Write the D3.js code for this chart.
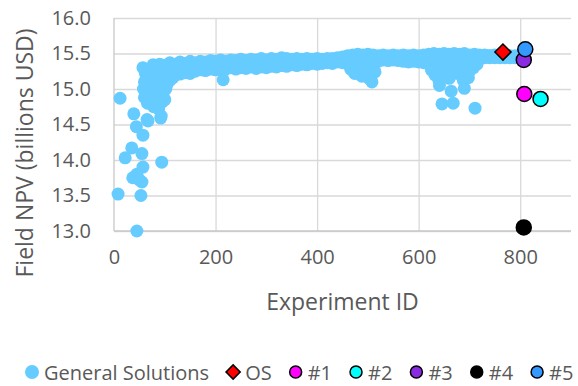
<!DOCTYPE html>
<html>
<head>
<meta charset="utf-8">
<script src="https://cdn.jsdelivr.net/npm/d3@7"></script>
<style>
  body { margin: 0; background: #fff; }
  svg { display: block; font-family: "Open Sans", sans-serif; }
  .grid line { stroke: #d9d9d9; stroke-width: 1.3; }
  .grid path { display: none; }
  .tick-label text { fill: #595959; font-size: 20px; }
  .axis-title { fill: #595959; font-size: 23px; }
  .legend text { fill: #595959; font-size: 20px; }
</style>
</head>
<body>
<svg id="chart" width="578" height="386"></svg>
<script>
// General solutions as [experiment id, field NPV]
var earlyRuns = [
  [8, 13.52], [12, 14.87], [22, 14.03], [35, 14.17], [37, 13.75], [39, 14.65],
  [44, 14.47], [45, 13.80], [45, 13.00], [50, 13.72], [53, 13.50], [55, 14.09],
  [57, 14.35], [57, 13.90], [55, 13.69], [65, 14.57], [67, 14.55], [94, 13.97], [92, 14.59]
];

var rampRuns = [
  [57, 15.30], [62, 15.22], [60, 15.10], [58, 15.00], [60, 14.88], [66, 14.80],
  [70, 14.92], [72, 15.05], [75, 15.18], [77, 15.34], [85, 15.25], [82, 15.12],
  [85, 14.98], [83, 14.85], [88, 14.72], [78, 14.75], [93, 14.62], [95, 14.82],
  [97, 14.95], [95, 15.10], [92, 15.28], [70, 15.25], [66, 14.98], [90, 15.35],
  [100, 14.85], [102, 15.00], [104, 15.06], [110, 15.12], [116, 15.16], [215, 15.13]
];

// main plateau band: ids with the top, middle and lower edge of the cloud
var bandIds = [100, 110, 120, 130, 140, 150, 160, 170, 180, 190, 200, 210, 220, 230, 240,
  250, 260, 270, 280, 290, 300, 310, 320, 330, 340, 350, 360, 370, 380, 390, 400, 410,
  420, 430, 440, 450, 460, 470, 480, 490, 500, 510, 520, 530, 540, 550, 560, 570, 580,
  590, 600, 610, 620, 630, 640, 650, 660, 670, 680, 690, 700, 710, 720, 730, 740, 750,
  760, 770, 780, 790];
var bandTop = [15.33, 15.37, 15.35, 15.38, 15.36, 15.39, 15.37, 15.39, 15.38, 15.40, 15.39,
  15.41, 15.39, 15.41, 15.40, 15.42, 15.40, 15.42, 15.41, 15.43, 15.41, 15.43, 15.42, 15.44,
  15.43, 15.42, 15.43, 15.42, 15.43, 15.42, 15.43, 15.42, 15.43, 15.43, 15.44, 15.45, 15.47,
  15.48, 15.49, 15.48, 15.49, 15.48, 15.47, 15.48, 15.47, 15.48, 15.47, 15.48, 15.47, 15.48,
  15.47, 15.48, 15.49, 15.50, 15.49, 15.50, 15.49, 15.50, 15.49, 15.50, 15.48, 15.49, 15.48,
  15.48, 15.47, 15.48, 15.47, 15.47, 15.46, 15.45];
var bandMid = [15.26, 15.29, 15.27, 15.30, 15.30, 15.31, 15.31, 15.33, 15.32, 15.34, 15.33,
  15.35, 15.34, 15.36, 15.34, 15.36, 15.35, 15.37, 15.35, 15.37, 15.36, 15.38, 15.37, 15.39,
  15.38, 15.38, 15.38, 15.39, 15.39, 15.39, 15.39, 15.39, 15.40, 15.40, 15.41, 15.41, 15.42,
  15.42, 15.41, 15.41, 15.41, 15.42, 15.43, 15.45, 15.44, 15.45, 15.44, 15.44, 15.43, 15.44,
  15.43, 15.43, 15.42, 15.42, 15.40, 15.42, 15.40, 15.42, 15.41, 15.42, 15.42, 15.44, 15.46,
  15.47, 15.47, 15.47, 15.47, 15.47, 15.47, 15.47];
var bandLow = [15.18, 15.20, 15.19, 15.21, 15.23, 15.22, 15.25, 15.27, 15.26, 15.28, 15.27,
  15.29, 15.28, 15.30, 15.28, 15.30, 15.29, 15.31, 15.29, 15.31, 15.30, 15.32, 15.31, 15.33,
  15.32, 15.34, 15.33, 15.35, 15.34, 15.36, 15.35, 15.36, 15.37, 15.36, 15.38, 15.37, 15.36,
  15.35, 15.34, 15.35, 15.34, 15.35, 15.39, 15.41, 15.40, 15.41, 15.40, 15.39, 15.38, 15.39,
  15.38, 15.37, 15.35, 15.33, 15.31, 15.33, 15.31, 15.33, 15.32, 15.34, 15.36, 15.39, 15.43,
  15.44, 15.44, 15.44, 15.44, 15.44, 15.44, 15.44];

var dipRuns = [
  [466, 15.28], [474, 15.22], [482, 15.26], [488, 15.18], [496, 15.22],
  [502, 15.15], [508, 15.10], [514, 15.24], [490, 15.30]
];

var lateRuns = [
  [625, 15.27], [632, 15.20], [638, 15.25], [645, 15.22], [652, 15.28], [660, 15.24],
  [668, 15.27], [676, 15.22], [684, 15.26], [692, 15.20], [700, 15.25], [708, 15.30],
  [715, 15.35], [640, 15.12], [660, 15.15], [688, 15.12], [698, 15.16],
  [641, 15.05], [664, 14.97], [690, 15.01], [646, 14.79], [668, 14.80], [711, 14.73]
];

// highlighted solutions
var specialNames = ['OS', '#1', '#2', '#3', '#4', '#5'];
var specialIds = [766, 808, 840, 807, 807, 810];
var specialNPV = [15.52, 14.93, 14.86, 15.41, 13.05, 15.56];
var specialColors = ['#ff0000', '#ff00ff', '#00ffff', '#8a2be2', '#000000', '#3399ff'];

var yTicks = [13.0, 13.5, 14.0, 14.5, 15.0, 15.5, 16.0];
var xTicks = [0, 200, 400, 600, 800];

var generalColor = '#66ccff';

var bandRuns = [];
bandIds.forEach(function(id, i) {
  bandRuns.push([id, bandTop[i]], [id, bandMid[i]], [id, bandLow[i]]);
});
var generalRuns = earlyRuns.concat(rampRuns, bandRuns, dipRuns, lateRuns);

var svg = d3.select('#chart');
var plotLeft = 114, plotRight = 571, plotTop = 18, plotBottom = 231;

var x = d3.scaleLinear().domain([0, 900]).range([plotLeft, plotRight]);
var y = d3.scaleLinear().domain([13, 16]).range([plotBottom, plotTop]);

// gridlines
svg.append('g')
  .attr('class', 'grid')
  .attr('transform', 'translate(' + plotLeft + ',0)')
  .call(d3.axisLeft(y).tickValues(yTicks).tickSize(-(plotRight - plotLeft)).tickFormat(''));

svg.append('g')
  .attr('class', 'grid')
  .attr('transform', 'translate(0,' + plotBottom + ')')
  .call(d3.axisBottom(x).tickValues(xTicks.slice(1)).tickSize(-(plotBottom - plotTop)).tickFormat(''));

// axis lines
svg.append('line')
  .attr('x1', plotLeft).attr('x2', plotLeft).attr('y1', plotTop).attr('y2', plotBottom)
  .attr('stroke', '#c8c8c8').attr('stroke-width', 1.3);
svg.append('line')
  .attr('x1', plotLeft).attr('x2', plotRight).attr('y1', plotBottom).attr('y2', plotBottom)
  .attr('stroke', '#c8c8c8').attr('stroke-width', 1.3);

// tick labels
var yAxis = svg.append('g')
  .attr('class', 'tick-label')
  .attr('transform', 'translate(' + plotLeft + ',0)')
  .call(d3.axisLeft(y).tickValues(yTicks).tickSize(0).tickPadding(23).tickFormat(d3.format('.1f')));
yAxis.select('.domain').remove();

var xAxis = svg.append('g')
  .attr('class', 'tick-label')
  .attr('transform', 'translate(0,' + plotBottom + ')')
  .call(d3.axisBottom(x).tickValues(xTicks).tickSize(0).tickPadding(19));
xAxis.select('.domain').remove();
svg.selectAll('.tick-label').attr('font-family', null).attr('font-size', null);

// axis titles
svg.append('text')
  .attr('class', 'axis-title')
  .attr('text-anchor', 'middle')
  .attr('transform', 'translate(33,153) rotate(-90)')
  .text('Field NPV (billions USD)');

svg.append('text')
  .attr('class', 'axis-title')
  .attr('text-anchor', 'middle')
  .attr('x', (plotLeft + plotRight) / 2)
  .attr('y', 310)
  .text('Experiment ID');

// general solutions
svg.append('g').selectAll('circle')
  .data(generalRuns)
  .join('circle')
  .attr('cx', function(d) { return x(d[0]); })
  .attr('cy', function(d) { return y(d[1]); })
  .attr('r', 6.5)
  .attr('fill', generalColor);

// highlighted solutions
var diamond = d3.symbol().type(d3.symbolSquare).size(130);
var specials = svg.append('g').selectAll('g')
  .data(specialNames)
  .join('g')
  .attr('transform', function(d, i) { return 'translate(' + x(specialIds[i]) + ',' + y(specialNPV[i]) + ')'; });

specials.each(function(d, i) {
  var g = d3.select(this);
  if (d === 'OS') {
    g.append('path')
      .attr('d', diamond())
      .attr('transform', 'rotate(45)')
      .attr('fill', specialColors[i])
      .attr('stroke', '#000').attr('stroke-width', 1.5);
  } else {
    g.append('circle')
      .attr('r', 7.5)
      .attr('fill', specialColors[i])
      .attr('stroke', '#000').attr('stroke-width', 1.5);
  }
});

// legend
var legend = svg.append('g').attr('class', 'legend');
var legendItems = [{ name: 'General Solutions', color: generalColor, general: true }]
  .concat(specialNames.map(function(n, i) { return { name: n, color: specialColors[i] }; }));

var cursor = 32;
var legendY = 372;
legendItems.forEach(function(item) {
  var g = legend.append('g').attr('transform', 'translate(' + cursor + ',' + legendY + ')');
  if (item.general) {
    g.append('circle').attr('r', 7).attr('fill', item.color);
  } else if (item.name === 'OS') {
    g.append('path')
      .attr('d', d3.symbol().type(d3.symbolSquare).size(100)())
      .attr('transform', 'rotate(45)')
      .attr('fill', item.color)
      .attr('stroke', '#000').attr('stroke-width', 1.5);
  } else {
    g.append('circle').attr('r', 6)
      .attr('fill', item.color)
      .attr('stroke', '#000').attr('stroke-width', 1.5);
  }
  var t = g.append('text')
    .attr('x', 12)
    .attr('y', 8)
    .text(item.name);
  cursor += 12 + t.node().getComputedTextLength() + 24;
});
</script>
</body>
</html>
